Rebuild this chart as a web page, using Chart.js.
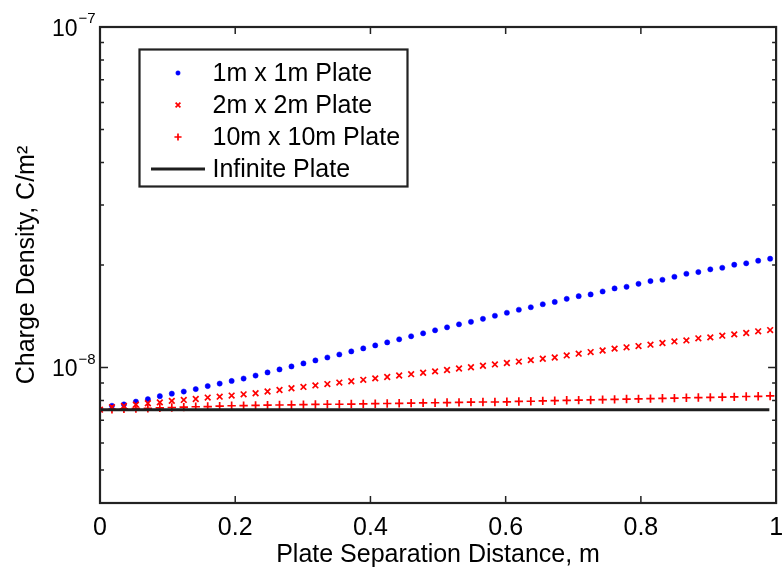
<!DOCTYPE html>
<html>
<head>
<meta charset="utf-8">
<script src="https://cdn.jsdelivr.net/npm/chart.js@4.4.1/dist/chart.umd.min.js"></script>
<style>
  html, body { margin: 0; padding: 0; background: #fff; }
  canvas { display: block; }
</style>
</head>
<body>
<canvas id="chart" width="782" height="571"></canvas>
<script>
// plate separation, m
const separation = [0, 0.0177, 0.0354, 0.0531, 0.0708, 0.0885, 0.1062, 0.1239, 0.1416, 0.1593,
  0.1770, 0.1947, 0.2124, 0.2301, 0.2478, 0.2655, 0.2832, 0.3009, 0.3186, 0.3363,
  0.3540, 0.3717, 0.3894, 0.4071, 0.4248, 0.4425, 0.4602, 0.4779, 0.4956, 0.5133,
  0.5310, 0.5487, 0.5664, 0.5841, 0.6018, 0.6195, 0.6372, 0.6549, 0.6726, 0.6903,
  0.7080, 0.7257, 0.7434, 0.7611, 0.7788, 0.7965, 0.8142, 0.8319, 0.8496, 0.8673,
  0.8850, 0.9027, 0.9204, 0.9381, 0.9558, 0.9735, 0.9912];

// charge density in units of 1e-9 C/m^2
const plate1m = [7.52, 7.72, 7.79, 7.94, 8.07, 8.24, 8.38, 8.50, 8.64, 8.82,
  8.97, 9.13, 9.28, 9.47, 9.67, 9.87, 10.07, 10.28, 10.49, 10.70,
  10.92, 11.15, 11.38, 11.61, 11.85, 12.10, 12.35, 12.60, 12.86, 13.12,
  13.39, 13.62, 13.90, 14.19, 14.48, 14.78, 15.03, 15.34, 15.58, 15.91,
  16.20, 16.39, 16.72, 17.07, 17.26, 17.61, 17.94, 18.10, 18.47, 18.85,
  19.07, 19.42, 19.63, 20.04, 20.23, 20.59, 20.87];
const plate2m = [7.52, 7.65, 7.71, 7.78, 7.85, 7.90, 7.98, 8.03, 8.08, 8.16,
  8.21, 8.27, 8.34, 8.40, 8.50, 8.59, 8.69, 8.77, 8.86, 8.94,
  9.03, 9.11, 9.20, 9.29, 9.38, 9.47, 9.56, 9.65, 9.74, 9.83,
  9.93, 10.02, 10.12, 10.21, 10.31, 10.41, 10.51, 10.61, 10.70, 10.85,
  10.98, 11.10, 11.22, 11.36, 11.46, 11.56, 11.67, 11.80, 11.93, 12.01,
  12.18, 12.26, 12.40, 12.51, 12.63, 12.77, 12.88];
const plate10m = [7.52, 7.54, 7.56, 7.58, 7.59, 7.61, 7.63, 7.65, 7.67, 7.68,
  7.70, 7.72, 7.73, 7.74, 7.75, 7.76, 7.77, 7.78, 7.79, 7.80,
  7.80, 7.81, 7.82, 7.83, 7.84, 7.85, 7.86, 7.87, 7.88, 7.89,
  7.90, 7.91, 7.92, 7.92, 7.93, 7.95, 7.96, 7.98, 7.99, 8.01,
  8.02, 8.03, 8.05, 8.06, 8.08, 8.09, 8.10, 8.12, 8.13, 8.15,
  8.16, 8.17, 8.19, 8.20, 8.22, 8.23, 8.25];
const infiniteX = [0, 0.99];
const infinitePlate = [7.52, 7.52];

const seriesNames = ['1m x 1m Plate', '2m x 2m Plate', '10m x 10m Plate', 'Infinite Plate'];

const xTicks = [0, 0.2, 0.4, 0.6, 0.8, 1];
const xTickLabels = ['0', '0.2', '0.4', '0.6', '0.8', '1'];
const yMajorTicks = [1e-8, 1e-7];
const yMajorLabels = [['10', '\u22128'], ['10', '\u22127']];
const yMinorTicks = [4e-9, 5e-9, 6e-9, 7e-9, 8e-9, 9e-9,
  2e-8, 3e-8, 4e-8, 5e-8, 6e-8, 7e-8, 8e-8, 9e-8];

const FONT = "'Liberation Sans', Arial, Helvetica, sans-serif";
const AXIS_COLOR = '#222';

function toPoints(xs, ys) {
  return xs.map((x, i) => ({ x: x, y: ys[i] * 1e-9 }));
}

const matlabAxes = {
  id: 'matlabAxes',
  afterDraw(chart) {
    const ctx = chart.ctx;
    const a = chart.chartArea;
    const xs = chart.scales.x;
    const ys = chart.scales.y;
    ctx.save();

    // box
    ctx.strokeStyle = AXIS_COLOR;
    ctx.lineWidth = 2.2;
    ctx.strokeRect(a.left, a.top, a.right - a.left, a.bottom - a.top);

    // inward ticks
    ctx.lineWidth = 1.5;
    ctx.beginPath();
    xTicks.forEach(v => {
      const px = xs.getPixelForValue(v);
      ctx.moveTo(px, a.bottom); ctx.lineTo(px, a.bottom - 7);
      ctx.moveTo(px, a.top); ctx.lineTo(px, a.top + 7);
    });
    yMajorTicks.forEach(v => {
      const py = ys.getPixelForValue(v);
      ctx.moveTo(a.left, py); ctx.lineTo(a.left + 8, py);
      ctx.moveTo(a.right, py); ctx.lineTo(a.right - 8, py);
    });
    yMinorTicks.forEach(v => {
      const py = ys.getPixelForValue(v);
      ctx.moveTo(a.left, py); ctx.lineTo(a.left + 4, py);
      ctx.moveTo(a.right, py); ctx.lineTo(a.right - 4, py);
    });
    ctx.stroke();

    // y tick labels with superscript exponent
    ctx.fillStyle = '#000';
    ctx.textBaseline = 'alphabetic';
    yMajorTicks.forEach((v, i) => {
      const py = ys.getPixelForValue(v);
      ctx.font = '23px ' + FONT;
      ctx.textAlign = 'right';
      ctx.fillText(yMajorLabels[i][0], 77.5, py + 8.5);
      ctx.font = '15px ' + FONT;
      ctx.textAlign = 'left';
      ctx.fillText(yMajorLabels[i][1], 78.5, py - 4);
    });

    // legend
    const box = { left: 139.5, top: 49.5, width: 268, height: 137 };
    ctx.fillStyle = '#fff';
    ctx.fillRect(box.left, box.top, box.width, box.height);
    ctx.strokeStyle = AXIS_COLOR;
    ctx.lineWidth = 2.2;
    ctx.strokeRect(box.left, box.top, box.width, box.height);

    const rowY = [73, 105, 137, 169];
    chart.data.datasets.forEach((ds, i) => {
      const y = rowY[i];
      if (ds.showLine === false) {
        ctx.strokeStyle = ds.borderColor;
        ctx.fillStyle = ds.backgroundColor;
        ctx.lineWidth = ds.borderWidth;
        Chart.helpers.drawPoint(ctx, {
          pointStyle: ds.pointStyle, radius: ds.pointRadius * 0.85,
          borderWidth: ds.borderWidth, rotation: 0
        }, 178, y);
      } else {
        ctx.strokeStyle = ds.borderColor;
        ctx.lineWidth = ds.borderWidth;
        ctx.beginPath();
        ctx.moveTo(151, y); ctx.lineTo(205, y);
        ctx.stroke();
      }
      ctx.fillStyle = '#000';
      ctx.font = '25px ' + FONT;
      ctx.textAlign = 'left';
      ctx.textBaseline = 'middle';
      ctx.fillText(ds.label, 212.5, y + 1);
    });
    ctx.restore();
  }
};

new Chart(document.getElementById('chart'), {
  type: 'scatter',
  data: {
    datasets: [
      {
        label: seriesNames[0],
        data: toPoints(separation, plate1m),
        showLine: false,
        pointStyle: 'circle',
        pointRadius: 2.6,
        borderWidth: 0.5,
        borderColor: '#0000ff',
        backgroundColor: '#0000ff',
        order: 3
      },
      {
        label: seriesNames[1],
        data: toPoints(separation, plate2m),
        showLine: false,
        pointStyle: 'crossRot',
        pointRadius: 4,
        borderWidth: 1.7,
        borderColor: '#ff0000',
        backgroundColor: '#ff0000',
        order: 2
      },
      {
        label: seriesNames[2],
        data: toPoints(separation, plate10m),
        showLine: false,
        pointStyle: 'cross',
        pointRadius: 4.2,
        borderWidth: 1.7,
        borderColor: '#ff0000',
        backgroundColor: '#ff0000',
        order: 1
      },
      {
        label: seriesNames[3],
        data: toPoints(infiniteX, infinitePlate),
        showLine: true,
        pointRadius: 0,
        borderWidth: 3,
        borderColor: '#1e1e1e',
        backgroundColor: '#1e1e1e',
        order: 0
      }
    ]
  },
  options: {
    responsive: false,
    animation: false,
    events: [],
    layout: { padding: { top: 27, right: 2, left: 0, bottom: 0 } },
    plugins: {
      legend: { display: false },
      tooltip: { enabled: false }
    },
    scales: {
      x: {
        type: 'linear',
        min: 0,
        max: 1,
        grid: { display: false, drawTicks: false },
        border: { display: false },
        afterBuildTicks: scale => { scale.ticks = xTicks.map(v => ({ value: v })); },
        afterFit: scale => {
          scale.height = 68;
          scale.paddingLeft = 0; scale.paddingRight = 0;
        },
        ticks: {
          color: '#000',
          padding: 10,
          maxRotation: 0,
          font: { family: FONT, size: 25 },
          callback: (value, index) => xTickLabels[index]
        },
        title: {
          display: true,
          text: 'Plate Separation Distance, m',
          color: '#000',
          font: { family: FONT, size: 25 },
          padding: { top: 0, bottom: 1 }
        }
      },
      y: {
        type: 'logarithmic',
        min: 4e-9,
        max: 1e-7,
        grid: { display: false, drawTicks: false },
        border: { display: false },
        ticks: { display: false },
        afterFit: scale => {
          scale.width = 100;
          scale.paddingTop = 0; scale.paddingBottom = 0;
        },
        title: {
          display: true,
          text: 'Charge Density, C/m\u00B2',
          color: '#000',
          font: { family: FONT, size: 25 },
          padding: { top: 12, bottom: 0 }
        }
      }
    }
  },
  plugins: [matlabAxes]
});
</script>
</body>
</html>
